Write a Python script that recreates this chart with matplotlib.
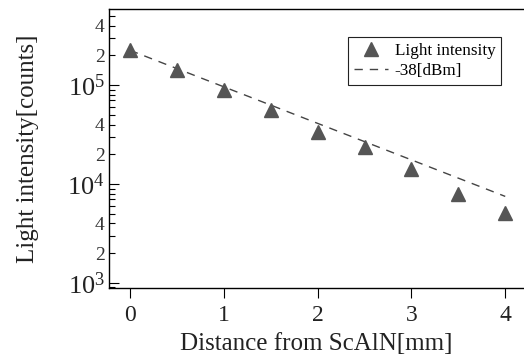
"""Light intensity vs distance from ScAlN, log-scale scatter with fit line."""

import math

import matplotlib
matplotlib.use("Agg")
import matplotlib.pyplot as plt
from matplotlib.ticker import LogLocator, FuncFormatter

# Data
distance_mm = [0.0, 0.5, 1.0, 1.5, 2.0, 2.5, 3.0, 3.5, 4.0]
intensity = [2.27e5, 1.42e5, 9.0e4, 5.6e4, 3.35e4, 2.36e4, 1.41e4, 7.9e3, 5.1e3]

# Fit line (-38 dBm) endpoints
fit_x = [0.0, 4.0]
fit_y = [2.25e5, 7.5e3]

plt.rcParams["font.family"] = ["Liberation Serif", "DejaVu Serif"]
plt.rcParams["mathtext.fontset"] = "custom"
plt.rcParams["mathtext.rm"] = "Liberation Serif"
plt.rcParams["mathtext.it"] = "Liberation Serif:italic"

fig = plt.figure(figsize=(5.24, 3.58), dpi=100)
ax = fig.add_axes([0.208, 0.1955, 0.792, 0.778])

ax.plot(fit_x, fit_y, linestyle=(0, (6, 5)), color="#444444", lw=1.0,
        label="-38[dBm]", zorder=2)
ax.plot(distance_mm, intensity, linestyle="none", marker="^", ms=9.5,
        color="#555555", label="Light intensity", zorder=3)

ax.set_yscale("log")
ax.set_xlim(-0.224, 4.2)
ax.set_ylim(889, 5.82e5)

ax.set_xticks([0, 1, 2, 3, 4])
ax.yaxis.set_major_locator(LogLocator(base=10, numticks=10))
ax.yaxis.set_minor_locator(LogLocator(base=10, subs=range(2, 10), numticks=20))


def minor_fmt(v, pos):
    m = round(v / 10 ** math.floor(math.log10(v) + 1e-9))
    return str(m) if m in (2, 4) else ""


ax.yaxis.set_minor_formatter(FuncFormatter(minor_fmt))

ax.tick_params(axis="y", which="major", direction="in", length=7,
               labelsize=19, width=0.8, pad=3, labelcolor="#222222")
ax.tick_params(axis="y", which="minor", direction="in", length=4,
               labelsize=14, width=0.8, pad=3, labelcolor="#333333")
ax.tick_params(axis="x", which="major", direction="out", length=7,
               labelsize=17, width=0.8, pad=5, labelcolor="#222222")
ax.tick_params(axis="x", which="minor", bottom=False)

ax.spines["right"].set_visible(False)
for s in ("left", "bottom", "top"):
    ax.spines[s].set_linewidth(1.0)

ax.set_xlabel("Distance from ScAlN[mm]", fontsize=18, color="#222222", labelpad=5)
ax.set_ylabel("Light intensity[counts]", fontsize=18, color="#222222", labelpad=20)

handles, labels = ax.get_legend_handles_labels()
leg = ax.legend(handles[::-1], labels[::-1], loc="upper left",
                bbox_to_anchor=(0.575, 0.9), fontsize=12.3, frameon=True,
                fancybox=False, edgecolor="#222222", framealpha=1,
                handlelength=2.0, handletextpad=0.4, borderpad=0.35,
                labelspacing=0.2, borderaxespad=0)
leg.get_frame().set_linewidth(0.8)

fig.savefig("out.png", dpi=100)
